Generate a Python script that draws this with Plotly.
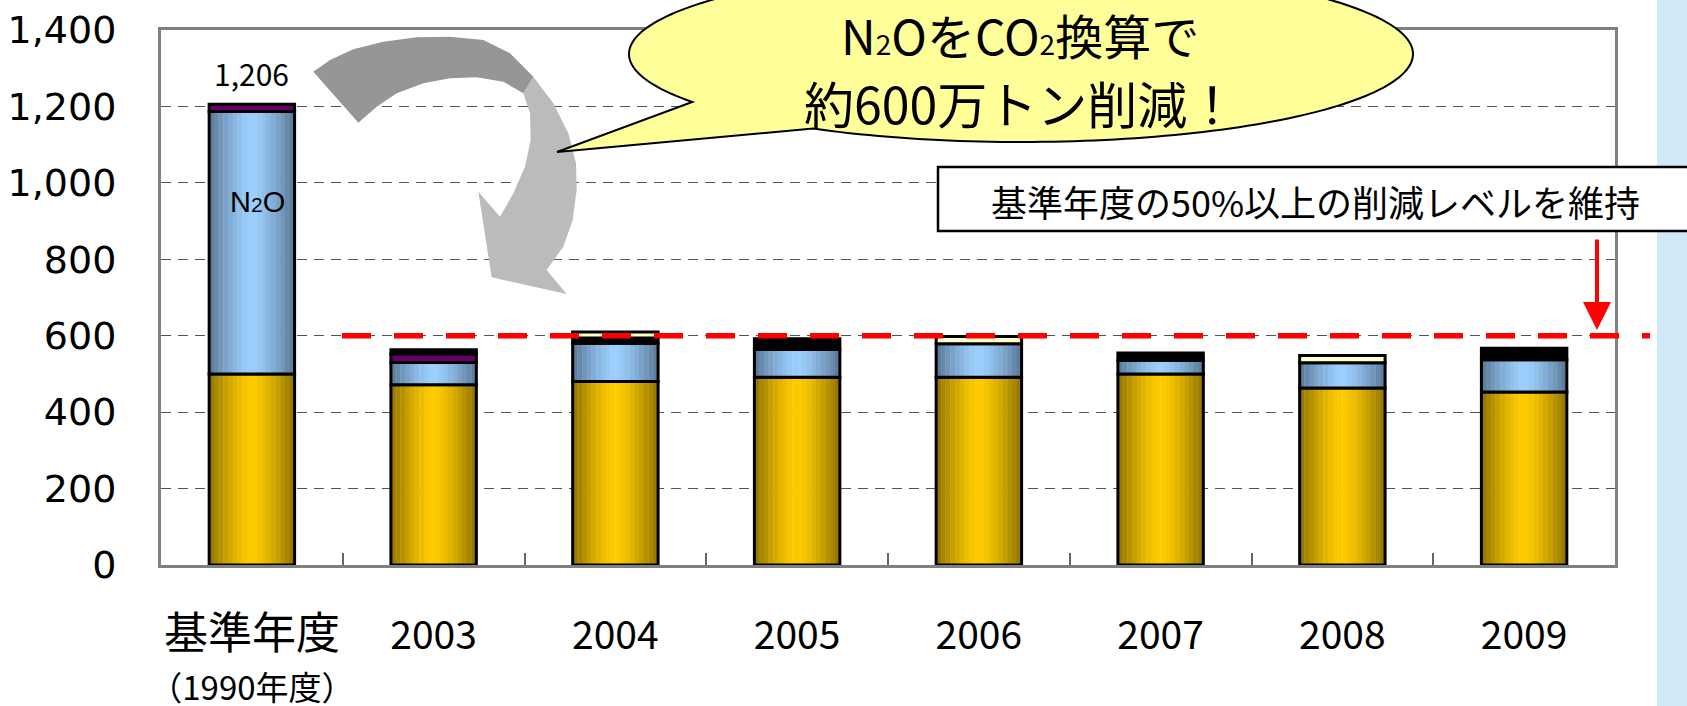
import numpy as np
import plotly.graph_objects as go

# ---------------- data ----------------
categories = ["基準年度", "2003", "2004", "2005", "2006", "2007", "2008", "2009"]
tick_sub = {"基準年度": "（1990年度）"}
gold = [500, 472, 480, 491, 491, 500, 463, 453]
n2o = [687, 58, 100, 73, 88, 36, 66, 84]
purple = [19, 22, 0, 0, 0, 0, 0, 0]
black = [0, 11, 14, 28, 0, 19, 0, 30]
cream = [0, 0, 16, 0, 19, 0, 19, 0]
totals = [1206, 563, 610, 592, 598, 555, 548, 567]
threshold = 600
y_ticks = [0, 200, 400, 600, 800, 1000, 1200, 1400]

# ---------------- layout geometry ----------------
W, H = 1687, 706
ML, MR, MT, MB = 161, 72, 30, 141
PW, PH = W - ML - MR, H - MT - MB


def pp(x, y):
    """page pixel -> paper coords"""
    return (x - ML) / PW, (H - MB - y) / PH


def hex2rgb(h):
    h = h.lstrip("#")
    return np.array([int(h[i:i + 2], 16) for i in (0, 2, 4)], float)


def grad(center, edge, t):
    u = abs(2 * t - 1) ** 1.4
    c = hex2rgb(center) * (1 - u) + hex2rgb(edge) * u
    return "rgb(%d,%d,%d)" % tuple(c.round())


segments = [
    (gold, "#FFCC00", "#8E7100", True),
    (n2o, "#9CCFFF", "#587694", True),
    (purple, "#660066", "#660066", False),
    (black, "#000000", "#000000", False),
    (cream, "#FFFFCC", "#FFFFCC", False),
]

BW = 0.47
NS = 18
fig = go.Figure()
base = np.zeros(len(categories))
for vals, c_center, c_edge, is_grad in segments:
    v = np.array(vals, float)
    yv = [x if x > 0 else None for x in v]
    bv = list(base)
    if is_grad:
        for k in range(NS):
            t = (k + 0.5) / NS
            fig.add_trace(go.Bar(
                x=categories, y=yv, base=bv, width=BW / NS * 1.08,
                offset=-BW / 2 + k * BW / NS - BW / NS * 0.04,
                marker=dict(color=grad(c_center, c_edge, t), line=dict(width=0)),
                showlegend=False, hoverinfo="skip"))
    fig.add_trace(go.Bar(
        x=categories, y=yv, base=bv, width=BW, offset=-BW / 2,
        marker=dict(color=(c_center if not is_grad else "rgba(0,0,0,0)"),
                    line=dict(color="black", width=3)),
        showlegend=False, hoverinfo="skip"))
    base = base + v

annotations = []
# total labels
for i, (c, t) in enumerate(zip(categories, totals)):
    ly = t + 81 if i == 0 else 727
    annotations.append(dict(x=c, y=ly, xref="x", yref="y", text=f"{t:,}", showarrow=False,
                            xanchor="center", yanchor="middle",
                            font=dict(size=30, color="black", family="Noto Sans CJK JP")))
# N2O label in base bar
annotations.append(dict(x=categories[0], y=950, xref="x", yref="y", xshift=6,
                        text="N<span style='font-size:21px'>2</span>O", showarrow=False,
                        xanchor="center", yanchor="middle",
                        font=dict(size=29, color="black", family="Liberation Sans")))

shapes = []
# right edge slide decoration
x0, _ = pp(1657, 0)
x1, _ = pp(1700, 0)
shapes.append(dict(type="rect", xref="paper", yref="paper", x0=x0, x1=x1, y0=-1, y1=2,
                   fillcolor="#CFE9F9", line=dict(width=0), layer="below"))

# red dashed threshold line
rx0, _ = pp(342, 0)
rx1, _ = pp(1650, 0)
shapes.append(dict(type="line", xref="paper", yref="y", x0=rx0, x1=rx1, y0=threshold, y1=threshold,
                   line=dict(color="#FF0000", width=5.5, dash="29px,23px"), layer="above"))

# gray curved arrow (zoom-crop coordinates -> page pixels)
outer = [(70, 95), (120, 60), (190, 28), (280, 5), (380, -8), (480, -10), (580, 0), (660, 40),
         (730, 110), (790, 190), (835, 280), (858, 370), (860, 450), (848, 540), (820, 620), (770, 690)]
inner = [(630, 530), (670, 460), (705, 380), (722, 300), (720, 220), (700, 160), (640, 125),
         (560, 112), (480, 115), (400, 130), (320, 160), (260, 200), (205, 248)]
head = [(830, 762), (605, 712), (565, 455)]


def zpath(pts):
    out = []
    for j, (zx, zy) in enumerate(pts):
        px, py = pp(290 + zx / 3, 40 + zy / 3)
        out.append(("M" if j == 0 else "L") + f"{px:.5f},{py:.5f}")
    return " ".join(out) + " Z"


light_pts = outer[8:] + head + inner[:6]
dark_pts = outer[:9] + inner[5:]
shapes.append(dict(type="path", xref="paper", yref="paper", path=zpath(light_pts),
                   fillcolor="#BBBBBB", line=dict(width=0), layer="above"))
shapes.append(dict(type="path", xref="paper", yref="paper", path=zpath(dark_pts),
                   fillcolor="#969696", line=dict(width=0), layer="above"))

# speech bubble
cx, cy, a, b = 1021, 54, 392, 88
ts = np.radians(np.linspace(147, 482, 220))
bx = cx + a * np.cos(ts)
by = cy + b * np.sin(ts)
pts = [pp(x, y) for x, y in zip(bx, by)] + [pp(557, 152)]
bpath = " ".join(("M" if j == 0 else "L") + f"{x:.5f},{y:.5f}" for j, (x, y) in enumerate(pts)) + " Z"
shapes.append(dict(type="path", xref="paper", yref="paper", path=bpath,
                   fillcolor="#FFFF99", line=dict(color="black", width=2), layer="above"))

# text box
bx0, by0 = pp(938, 167)
bx1, by1 = pp(1720, 231)
shapes.append(dict(type="rect", xref="paper", yref="paper", x0=bx0, x1=bx1, y0=by1, y1=by0,
                   fillcolor="white", line=dict(color="black", width=2.5), layer="above"))

tx, ty = pp(1315, 201)
annotations.append(dict(x=tx, y=ty, xref="paper", yref="paper", text="基準年度の50%以上の削減レベルを維持",
                        showarrow=False, xanchor="center", yanchor="middle",
                        font=dict(size=36, color="black", family="Noto Sans CJK JP")))
t1x, t1y = pp(1020, 34)
annotations.append(dict(x=t1x, y=t1y, xref="paper", yref="paper",
                        text="N<span style='font-size:28px'>2</span>OをCO<span style='font-size:28px'>2</span>換算で",
                        showarrow=False, xanchor="center", yanchor="middle",
                        font=dict(size=48, color="black", family="Noto Sans CJK JP")))
t2x, t2y = pp(1020, 102)
annotations.append(dict(x=t2x, y=t2y, xref="paper", yref="paper",
                        text="約600万トン削減！", showarrow=False,
                        xanchor="center", yanchor="middle",
                        font=dict(size=50, color="black", family="Noto Sans CJK JP")))

# red down arrow
ahx, ahy = pp(1597, 330)
annotations.append(dict(x=ahx, y=ahy, xref="paper", yref="paper", text="", showarrow=True,
                        ax=0, ay=-92, arrowhead=2, arrowsize=1.4, arrowwidth=4,
                        arrowcolor="#FF0000", standoff=0))

ticktext = []
for c in categories:
    if c in tick_sub:
        ticktext.append(f"<span style='font-size:44px'>{c}</span><br>"
                        f"<span style='font-size:33px'>{tick_sub[c]}</span>")
    else:
        ticktext.append(c)

fig.update_layout(
    width=W, height=H, barmode="overlay",
    margin=dict(l=ML, r=MR, t=MT, b=MB, pad=0, autoexpand=False),
    paper_bgcolor="white", plot_bgcolor="white",
    font=dict(family="Noto Sans CJK JP", color="black"),
    shapes=shapes, annotations=annotations,
    showlegend=False,
)
fig.update_xaxes(type="category", range=[-0.5, 7.5], tickvals=categories, ticktext=ticktext,
                 showline=True, linecolor="#808080", linewidth=3, mirror=True,
                 ticks="inside", tickson="boundaries", ticklen=12, tickcolor="#666666", tickwidth=1.5,
                 showgrid=False, ticklabelstandoff=34, tickangle=0, automargin=False,
                 tickfont=dict(size=39, color="black", family="Noto Sans CJK JP"))
fig.update_yaxes(range=[0, 1400], tickvals=y_ticks, tickformat=",", showgrid=True,
                 gridcolor="#555555", gridwidth=1, griddash="10px,7px",
                 showline=True, linecolor="#808080", linewidth=3, mirror=True,
                 ticks="", ticklabelstandoff=34, zeroline=False, automargin=False,
                 tickfont=dict(size=38, color="black", family="DejaVu Sans"))

fig.write_html("out.html")
